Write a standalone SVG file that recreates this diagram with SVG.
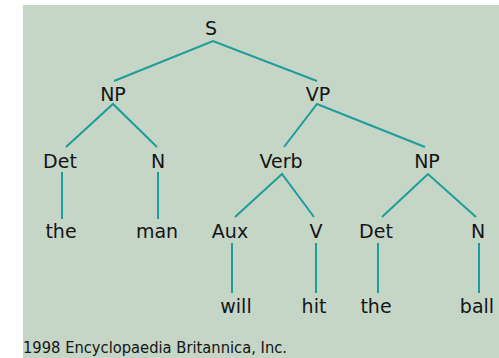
<svg xmlns="http://www.w3.org/2000/svg" width="499" height="358" viewBox="0 0 499 358">
  <style>
    .panel { fill: #c5d6c6; }
    .edge { stroke: #1e9c9c; stroke-width: 2; fill: none; stroke-linecap: butt; }
    .lbl { font-family: "DejaVu Sans", "Liberation Sans", sans-serif; font-size: 19px; fill: #141414; text-anchor: middle; }
    .credit { font-family: "DejaVu Sans", "Liberation Sans", sans-serif; font-size: 15px; fill: #141414; }
  </style>

  <!-- backdrop -->
  <rect class="panel" x="23" y="5" width="476" height="353"/>

  <!-- branches of the parse tree -->
  <g id="connectors">
    <polyline class="edge" points="114,81 213,41 317,81"/>
    <polyline class="edge" points="66,147 113,104 157,147"/>
    <polyline class="edge" points="284,147 317,104 425,147"/>
    <line class="edge" x1="62" y1="172" x2="62" y2="219"/>
    <line class="edge" x1="158" y1="172" x2="158" y2="219"/>
    <polyline class="edge" points="235,217 282,174 314,217"/>
    <polyline class="edge" points="382,217 428,174 476,217"/>
    <line class="edge" x1="232" y1="243" x2="232" y2="293"/>
    <line class="edge" x1="316" y1="243" x2="316" y2="293"/>
    <line class="edge" x1="378" y1="243" x2="378" y2="293"/>
    <line class="edge" x1="479" y1="243" x2="479" y2="293"/>
  </g>

  <!-- phrase nodes -->
  <g id="s"><text class="lbl" x="211" y="35">S</text></g>
  <g id="np1"><text class="lbl" x="113" y="101">NP</text></g>
  <g id="vp"><text class="lbl" x="318" y="101">VP</text></g>
  <g id="det1"><text class="lbl" x="60" y="168">Det</text></g>
  <g id="n1"><text class="lbl" x="158" y="168">N</text></g>
  <g id="verb"><text class="lbl" x="281" y="168">Verb</text></g>
  <g id="np2"><text class="lbl" x="427" y="168">NP</text></g>
  <g id="the1"><text class="lbl" x="61" y="238">the</text></g>
  <g id="man"><text class="lbl" x="157" y="238">man</text></g>
  <g id="aux"><text class="lbl" x="230" y="238">Aux</text></g>
  <g id="v"><text class="lbl" x="316" y="238">V</text></g>
  <g id="det2"><text class="lbl" x="376" y="238">Det</text></g>
  <g id="n2"><text class="lbl" x="478" y="238">N</text></g>
  <g id="will"><text class="lbl" x="236" y="313">will</text></g>
  <g id="hit"><text class="lbl" x="314" y="313">hit</text></g>
  <g id="the2"><text class="lbl" x="376" y="313">the</text></g>
  <g id="ball"><text class="lbl" x="477" y="313">ball</text></g>

  <!-- credit line -->
  <text class="credit" x="23" y="353" textLength="264" lengthAdjust="spacingAndGlyphs">1998 Encyclopaedia Britannica, Inc.</text>
</svg>
